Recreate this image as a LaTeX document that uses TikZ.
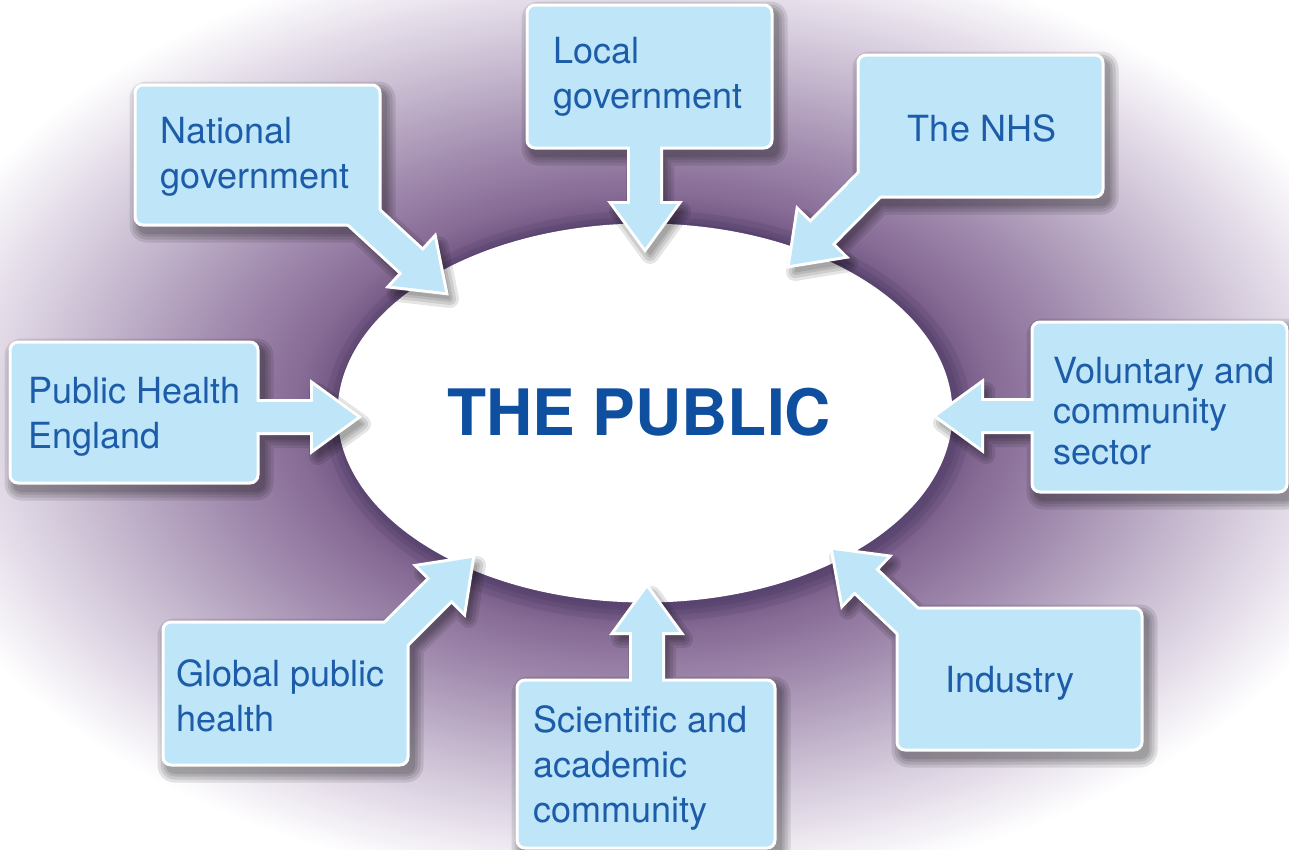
\documentclass[tikz,border=0pt]{standalone}
\usepackage{fontspec}
\setmainfont{TeX Gyre Heros}
\usetikzlibrary{calc,shapes.geometric}

\definecolor{panelblue}{HTML}{BEE6F8}
\definecolor{panelink}{HTML}{1D5CA8}
\definecolor{titleink}{HTML}{0E4F9F}
\definecolor{hz0}{HTML}{6E5480}
\definecolor{hz1}{HTML}{876C96}
\definecolor{hz2}{HTML}{A18BAE}
\definecolor{hz3}{HTML}{C6B9CF}
\definecolor{hz4}{HTML}{EAE4EE}
\definecolor{rimshade}{HTML}{1E1A40}

% purple halo around the central ellipse (path edge sits at 25bp)
\pgfdeclareradialshading{haze}{\pgfpoint{0bp}{0bp}}{%
  color(0bp)=(hz0); color(10bp)=(hz0); color(11.5bp)=(hz1); color(14.5bp)=(hz2);
  color(18.5bp)=(hz3); color(22.5bp)=(hz4); color(25bp)=(white); color(50bp)=(white)}

\pgfdeclarelayer{hazelayer}
\pgfdeclarelayer{shadowlayer}
\pgfdeclarelayer{rimlayer}
\pgfdeclarelayer{toplayer}
\pgfsetlayers{hazelayer,shadowlayer,rimlayer,main,toplayer}

\tikzset{
  panel/.style={rectangle, rounded corners=8pt, fill=panelblue, draw=white,
    line width=3pt, inner sep=0pt},
  paneltext/.style={text=panelink, font=\fontsize{36}{45}\selectfont,
    align=left, inner sep=0pt},
  titletext/.style={text=titleink, font=\bfseries\fontsize{64}{64}\selectfont,
    inner sep=0pt},
}

% corner points of a block arrow from #2 to #3, stored under prefix #1
\newcommand{\arrowpts}[3]{%
  \coordinate (#1s) at #2;
  \coordinate (#1t) at #3;
  \coordinate (#1b) at ($(#1t)!44pt!(#1s)$);
  \coordinate (#1p1) at ($(#1s)!15pt!90:(#1t)$);
  \coordinate (#1p2) at ($(#1b)!15pt!90:(#1t)$);
  \coordinate (#1p3) at ($(#1b)!32pt!90:(#1t)$);
  \coordinate (#1p4) at ($(#1b)!32pt!-90:(#1t)$);
  \coordinate (#1p5) at ($(#1b)!15pt!-90:(#1t)$);
  \coordinate (#1p6) at ($(#1s)!15pt!-90:(#1t)$);
}
\newcommand{\arrowoutline}[1]{(#1p1) -- (#1p2) -- (#1p3) -- (#1t) -- (#1p4) -- (#1p5) -- (#1p6) -- cycle}

% soft shadow under a panel and its arrow
\newcommand{\castshadow}[2]{%
  \foreach \w in {18,12,6,1}{%
    \begin{scope}[transparency group, opacity=0.1, transform canvas={shift={(5pt,-7pt)}}]
      \path[fill=black, draw=black, line width=\w pt, line join=round, rounded corners=8pt]
        (#1.north west) rectangle (#1.south east);
      \path[fill=black, draw=black, line width=\w pt, line join=round] \arrowoutline{#2};
    \end{scope}}}

\begin{document}
\begin{tikzpicture}[x=1pt, y=-1pt]
  \useasboundingbox (0,0) rectangle (1289,849);

  % background halo and the central ellipse
  \begin{pgfonlayer}{hazelayer}
    \fill[white] (0,0) rectangle (1289,849);
    \begin{scope}
      \clip (0,0) rectangle (1289,849);
      \shade[shading=haze] (645,413) ellipse [x radius=760, y radius=480];
    \end{scope}
    \foreach \w in {32,20,10}{%
      \draw[rimshade, opacity=0.09, line width=\w pt] (648,416) ellipse [x radius=307.5, y radius=189.5];}
    \node[ellipse, fill=white, minimum width=615pt, minimum height=379pt, inner sep=0pt] (public) at (645,413) {};
  \end{pgfonlayer}

  \node[titletext] (title) at (639,412) {THE PUBLIC};

  % panels
  \node[panel, minimum width=245pt, minimum height=140pt] (nat) at (257.5,155) {};
  \node[panel, minimum width=245pt, minimum height=143pt] (loc) at (649.5,76.5) {};
  \node[panel, minimum width=245pt, minimum height=142pt] (nhs) at (980.5,126) {};
  \node[panel, minimum width=248pt, minimum height=141pt] (phe) at (134,412.5) {};
  \node[panel, minimum width=255pt, minimum height=170pt] (vol) at (1159.5,407) {};
  \node[panel, minimum width=245pt, minimum height=143pt] (glo) at (285.5,693.5) {};
  \node[panel, minimum width=258pt, minimum height=168pt] (sci) at (646,764) {};
  \node[panel, minimum width=245pt, minimum height=142pt] (ind) at (1019.5,679) {};

  % panel labels
  \node[paneltext, anchor=west] (natx) at ([xshift=27pt,yshift=-2pt]nat.west) {National\\government};
  \node[paneltext, anchor=west] (locx) at ([xshift=28pt]loc.west) {Local\\government};
  \node[paneltext] (nhsx) at (982,128) {The NHS};
  \node[paneltext, anchor=west] (phex) at ([xshift=20pt,yshift=-4pt]phe.west) {Public Health\\England};
  \node[paneltext, anchor=west, font=\fontsize{36}{40.5}\selectfont] (volx) at ([xshift=23pt,yshift=-4pt]vol.west) {Voluntary and\\community\\sector};
  \node[paneltext, anchor=west] (glox) at ([xshift=15pt,yshift=-2pt]glo.west) {Global public\\health};
  \node[paneltext, anchor=west] (scix) at ([xshift=18pt,yshift=-4pt]sci.west) {Scientific and\\academic\\community};
  \node[paneltext] (indx) at (1010,683) {Industry};

  % arrows from each panel towards the ellipse
  \arrowpts{a1}{($(nat.south east)+(-24,-15)$)}{(445,292)}
  \arrowpts{a2}{($(loc.south)+(-4.5,-12)$)}{(645,248)}
  \arrowpts{a3}{($(nhs.south west)+(18.5,-19.5)$)}{(790,265)}
  \arrowpts{a4}{($(phe.east)+(-9.5,4.5)$)}{(357,417)}
  \arrowpts{a5}{($(vol.west)+(9.5,9)$)}{(937,416)}
  \arrowpts{a6}{($(glo.north east)+(-17.5,17.5)$)}{(472,558)}
  \arrowpts{a7}{($(sci.north)+(1,11.5)$)}{(647,588)}
  \arrowpts{a8}{($(ind.north west)+(19.5,21.5)$)}{(833,550)}

  \begin{pgfonlayer}{shadowlayer}
    \castshadow{nat}{a1}
    \castshadow{loc}{a2}
    \castshadow{nhs}{a3}
    \castshadow{phe}{a4}
    \castshadow{vol}{a5}
    \castshadow{glo}{a6}
    \castshadow{sci}{a7}
    \castshadow{ind}{a8}
  \end{pgfonlayer}

  \begin{pgfonlayer}{rimlayer}
    \foreach \a in {a1,a2,a3,a4,a5,a6,a7,a8}{%
      \draw[white, line width=6pt, line join=miter] \arrowoutline{\a};}
  \end{pgfonlayer}

  \begin{pgfonlayer}{toplayer}
    \foreach \a in {a1,a2,a3,a4,a5,a6,a7,a8}{%
      \fill[panelblue] \arrowoutline{\a};}
  \end{pgfonlayer}
\end{tikzpicture}
\end{document}
